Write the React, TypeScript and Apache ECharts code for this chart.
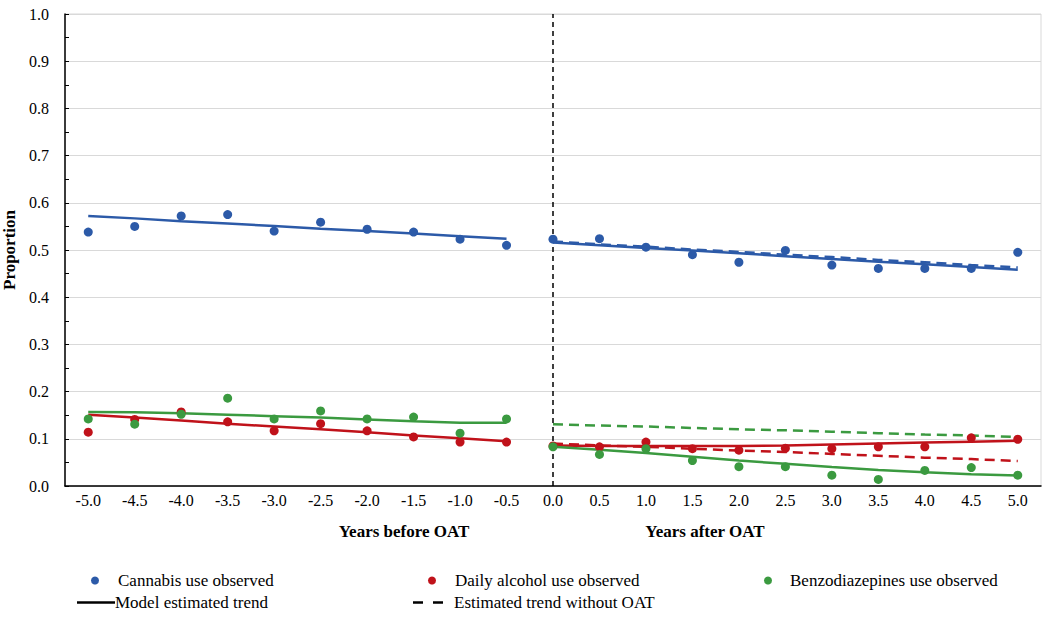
import React, { useEffect, useRef } from "react";
import * as echarts from "echarts";

const xLabels = ["-5.0","-4.5","-4.0","-3.5","-3.0","-2.5","-2.0","-1.5","-1.0","-0.5","0.0","0.5","1.0","1.5","2.0","2.5","3.0","3.5","4.0","4.5","5.0"];

const cannabisObsBefore = [0.538,0.550,0.572,0.575,0.540,0.559,0.544,0.538,0.523,0.510];
const cannabisObsAfter = [0.523,0.524,0.506,0.490,0.474,0.499,0.468,0.461,0.461,0.461,0.495];
const cannabisTrendBefore = [0.572,0.567,0.561,0.556,0.551,0.545,0.540,0.535,0.529,0.524];
const cannabisTrendAfter = [0.516,0.510,0.504,0.499,0.493,0.487,0.481,0.475,0.470,0.464,0.458];
const cannabisNoOat = [0.518,0.512,0.507,0.501,0.496,0.490,0.485,0.479,0.474,0.468,0.463];

const alcoholObsBefore = [0.114,0.141,0.157,0.136,0.117,0.132,0.117,0.104,0.093,0.093];
const alcoholObsAfter = [0.085,0.083,0.093,0.079,0.076,0.080,0.079,0.083,0.083,0.102,0.099];
const alcoholTrendBefore = [0.151,0.145,0.139,0.132,0.126,0.120,0.114,0.107,0.101,0.095];
const alcoholTrendAfter = [0.086,0.085,0.085,0.085,0.085,0.086,0.088,0.090,0.092,0.094,0.096];
const alcoholNoOat = [0.090,0.086,0.083,0.079,0.075,0.072,0.068,0.064,0.060,0.057,0.053];

const benzoObsBefore = [0.142,0.131,0.152,0.186,0.142,0.159,0.142,0.146,0.112,0.142];
const benzoObsAfter = [0.083,0.067,0.079,0.054,0.041,0.041,0.023,0.014,0.033,0.039,0.023];
const benzoTrendBefore = [0.157,0.156,0.154,0.151,0.148,0.145,0.141,0.137,0.134,0.134];
const benzoTrendAfter = [0.083,0.077,0.070,0.062,0.054,0.047,0.040,0.034,0.029,0.025,0.022];
const benzoNoOat = [0.131,0.128,0.126,0.123,0.120,0.118,0.115,0.112,0.109,0.107,0.104];

const BLUE = "#2c5aa8";
const RED = "#c0121a";
const GREEN = "#3b9a40";
const FONT = "Liberation Serif";

const nBefore = 10;
const nAfter = 11;
const padBefore = (arr: number[]) => [...arr, ...Array(nAfter).fill("-")];
const padAfter = (arr: number[]) => [...Array(nBefore).fill("-"), ...arr];

export default function App() {
  const ref = useRef<HTMLDivElement>(null);
  useEffect(() => {
    if (!ref.current) return;
    const chart = echarts.init(ref.current, null, { renderer: "svg" });

    const scatter = (name: string, color: string, before: number[], after: number[]) => ({
      type: "scatter",
      name,
      data: [...before, ...after],
      symbol: "circle",
      symbolSize: 9,
      itemStyle: { color, opacity: 1 },
      z: 5,
    });
    const line = (name: string, color: string, data: any[], dashed: boolean) => ({
      type: "line",
      name,
      data,
      symbol: "none",
      lineStyle: { color, width: 2.5, type: dashed ? [10, 6] : "solid" },
      itemStyle: { color },
      z: 3,
    });

    const txt = (pad: number) => ({ fontFamily: FONT, fontSize: 17, color: "#000", padding: [0, 0, 0, pad] });
    const legendBase = {
      orient: "horizontal",
      selectedMode: false,
      padding: 0,
    };

    chart.setOption({
      animation: false,
      backgroundColor: "#fff",
      grid: {
        left: 65,
        right: 9,
        top: 14,
        bottom: 133,
        show: true,
        borderColor: "#d9d9d9",
        borderWidth: 1,
        outerBoundsMode: "none",
        containLabel: false,
      },
      xAxis: {
        type: "category",
        data: xLabels,
        boundaryGap: true,
        axisLine: { lineStyle: { color: "#000", width: 1.5 } },
        axisTick: { inside: true, alignWithLabel: true, length: 5, lineStyle: { color: "#000" } },
        axisLabel: { fontFamily: FONT, fontSize: 16, color: "#000", margin: 6 },
        splitLine: { show: false },
      },
      yAxis: {
        type: "value",
        min: 0,
        max: 1,
        interval: 0.1,
        name: "Proportion",
        nameLocation: "middle",
        nameRotate: 90,
        nameGap: 40,
        nameTextStyle: { fontFamily: FONT, fontSize: 17, fontWeight: "bold", color: "#000" },
        axisLine: { show: true, lineStyle: { color: "#000", width: 1.5 } },
        axisTick: { show: true, inside: true, length: 4, lineStyle: { color: "#000" } },
        minorTick: { show: true, splitNumber: 2, length: 4, lineStyle: { color: "#000" } },
        axisLabel: {
          fontFamily: FONT,
          fontSize: 16,
          color: "#000",
          margin: 16,
          formatter: (v: number) => v.toFixed(1),
        },
        splitLine: { show: true, lineStyle: { color: "#d9d9d9", width: 1 } },
      },
      legend: [
        { ...legendBase, data: [{ name: "Cannabis use observed", icon: "circle" }], left: 91, top: 572, itemWidth: 8, itemHeight: 8, textStyle: txt(14) },
        { ...legendBase, data: [{ name: "Daily alcohol use observed", icon: "circle" }], left: 428, top: 572, itemWidth: 8, itemHeight: 8, textStyle: txt(14) },
        { ...legendBase, data: [{ name: "Benzodiazepines use observed", icon: "circle" }], left: 764, top: 572, itemWidth: 8, itemHeight: 8, textStyle: txt(13) },
        { ...legendBase, data: [{ name: "Model estimated trend", icon: "path://M0,0H38V2.5H0Z" }], left: 77, top: 594, itemWidth: 38, itemHeight: 2.5, textStyle: txt(-5) },
        { ...legendBase, data: [{ name: "Estimated trend without OAT", icon: "path://M0,0H10V2.5H0Z M20,0H30V2.5H20Z" }], left: 413, top: 594, itemWidth: 30, itemHeight: 2.5, textStyle: txt(6) },
      ],
      graphic: [
        { type: "text", x: 404, y: 531, style: { text: "Years before OAT", align: "center", verticalAlign: "middle", fontFamily: FONT, fontSize: 17, fontWeight: "bold", fill: "#000" } },
        { type: "text", x: 705, y: 531, style: { text: "Years after OAT", align: "center", verticalAlign: "middle", fontFamily: FONT, fontSize: 17, fontWeight: "bold", fill: "#000" } },
      ],
      series: [
        line("Cannabis trend before", BLUE, padBefore(cannabisTrendBefore), false),
        line("Cannabis trend after", BLUE, padAfter(cannabisTrendAfter), false),
        line("Cannabis no OAT", BLUE, padAfter(cannabisNoOat), true),
        line("Alcohol trend before", RED, padBefore(alcoholTrendBefore), false),
        line("Alcohol trend after", RED, padAfter(alcoholTrendAfter), false),
        line("Alcohol no OAT", RED, padAfter(alcoholNoOat), true),
        line("Benzo trend before", GREEN, padBefore(benzoTrendBefore), false),
        line("Benzo trend after", GREEN, padAfter(benzoTrendAfter), false),
        line("Benzo no OAT", GREEN, padAfter(benzoNoOat), true),
        scatter("Cannabis use observed", BLUE, cannabisObsBefore, cannabisObsAfter),
        scatter("Daily alcohol use observed", RED, alcoholObsBefore, alcoholObsAfter),
        scatter("Benzodiazepines use observed", GREEN, benzoObsBefore, benzoObsAfter),
        {
          type: "line",
          name: "Model estimated trend",
          data: [],
          symbol: "none",
          lineStyle: { color: "#000", width: 2.5, type: "solid" },
          itemStyle: { color: "#000" },
          markLine: {
            silent: true,
            symbol: "none",
            label: { show: false },
            lineStyle: { color: "#000", type: [5, 4], width: 1.5 },
            data: [{ xAxis: "0.0" }],
          },
        },
        {
          type: "line",
          name: "Estimated trend without OAT",
          data: [],
          symbol: "none",
          lineStyle: { color: "#000", width: 2.5, type: [8, 5] },
          itemStyle: { color: "#000" },
        },
      ],
    });
    return () => chart.dispose();
  }, []);

  return (
    <div
      ref={ref}
      style={{ position: "fixed", left: 0, top: 0, width: 1050, height: 619, background: "#fff" }}
    />
  );
}
